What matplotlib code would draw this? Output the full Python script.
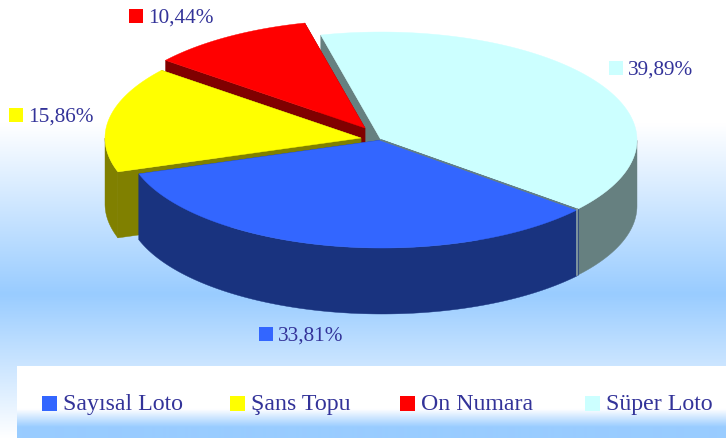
import matplotlib
matplotlib.use("Agg")
import matplotlib.pyplot as plt
from matplotlib.colors import to_rgb
from matplotlib.patches import Polygon, Rectangle
import numpy as np

plt.rcParams['font.family'] = ['Liberation Serif', 'DejaVu Serif']

# chart data, in legend order
names = ["Sayısal Loto", "Şans Topu", "On Numara", "Süper Loto"]
shares = [33.81, 15.86, 10.44, 39.89]
share_labels = ["33,81%", "15,86%", "10,44%", "39,89%"]
colors = ["#3366FF", "#FFFF00", "#FF0000", "#CCFFFF"]
wall_colors = ["#19337F", "#808000", "#800000", "#668080"]

# layout, all in image pixels
W, H = 726, 439
RX, RY, DEPTH = 256, 108, 66
START_ANGLE = -40  # right edge of the blue slice, going clockwise
centers = [(382, 141), (361, 139), (365, 129), (381, 141)]
label_pos = [(259, 335), (9, 116), (129, 17), (609, 69)]
legend_x = [42, 230, 400, 585]
TEXT_COLOR = "#333399"
SWATCH = 14

fig = plt.figure(figsize=(W / 100, H / 100), dpi=100)
ax = fig.add_axes([0, 0, 1, 1])


def gradient(extent, ys, stops):
    # vertical gradient between colour stops
    rows = np.arange(extent[2], extent[3]) + 0.5
    rgb = np.array([to_rgb(c) for c in stops])
    img = np.stack([np.interp(rows, ys, rgb[:, i]) for i in range(3)], axis=1)
    ax.imshow(img[:, None, :], extent=(extent[0], extent[1], extent[3], extent[2]),
              aspect='auto', interpolation='bilinear', zorder=0)


gradient((0, W, 0, H), [0, 125, 295, 439], ["#FFFFFF", "#FFFFFF", "#99CCFF", "#FFFFFF"])
gradient((17, W, 367, H), [367, 410, 428, 439], ["#FFFFFF", "#FFFFFF", "#99CCFF", "#99CCFF"])


def rim(center, a1, a2):
    # points on the top ellipse from angle a1 to a2
    t = np.radians(np.linspace(a1, a2, 120))
    return np.column_stack([center[0] + RX * np.cos(t), center[1] - RY * np.sin(t)])


def add_poly(pts, color, z):
    ax.add_patch(Polygon(pts, closed=True, facecolor=color, edgecolor=color, lw=0.3, zorder=z))


# slice angles from the shares, clockwise
angles = {}
a = START_ANGLE
for i, s in enumerate(shares):
    angles[i] = (a, a - s * 3.6)
    a -= s * 3.6

# back to front: Süper, On Numara, Şans, Sayısal
for z, i in enumerate([3, 2, 1, 0]):
    base = 2 + z * 3
    a1, a2 = angles[i]
    c = np.array(centers[i], dtype=float)
    arc = rim(c, a1, a2)
    drop = np.array([0, DEPTH])

    # radial faces, seen where the slice edge looks downward
    for end in (arc[0], arc[-1]):
        add_poly(np.array([c, end, end + drop, c + drop]), wall_colors[i], base)

    # outer wall, only the part on the front of the ellipse
    t = np.radians(np.linspace(a1, a2, 120))
    front = arc[np.sin(t) <= 0]
    if len(front):
        add_poly(np.vstack([front, (front + drop)[::-1]]), wall_colors[i], base + 1)

    add_poly(np.vstack([c, arc]), colors[i], base + 2)

# thin grey seams where the Süper Loto slice meets the blue one
seam = rim(np.array(centers[3], dtype=float), START_ANGLE, START_ANGLE)[0]
ax.plot([centers[3][0], seam[0]], [centers[3][1], seam[1]], color="#668080", lw=1.2, zorder=30)
ax.plot([seam[0], seam[0]], [seam[1], seam[1] + DEPTH], color="#8FA5A5", lw=1.2, zorder=30)

# data labels with their swatches
for i, (lx, ly) in enumerate(label_pos):
    ax.add_patch(Rectangle((lx, ly - SWATCH / 2), SWATCH, SWATCH, facecolor=colors[i], lw=0, zorder=31))
    ax.text(lx + SWATCH + 5, ly + 1, share_labels[i], color=TEXT_COLOR, fontsize=15.3,
            va='center', ha='left', zorder=31)

# legend strip
for i, name in enumerate(names):
    ax.add_patch(Rectangle((legend_x[i], 397), 15, 15, facecolor=colors[i], lw=0, zorder=31))
    ax.text(legend_x[i] + 21, 405, name, color=TEXT_COLOR, fontsize=17.2,
            va='center', ha='left', zorder=31)

ax.set_xlim(0, W)
ax.set_ylim(H, 0)
ax.axis('off')

fig.savefig("out.png", dpi=100)
